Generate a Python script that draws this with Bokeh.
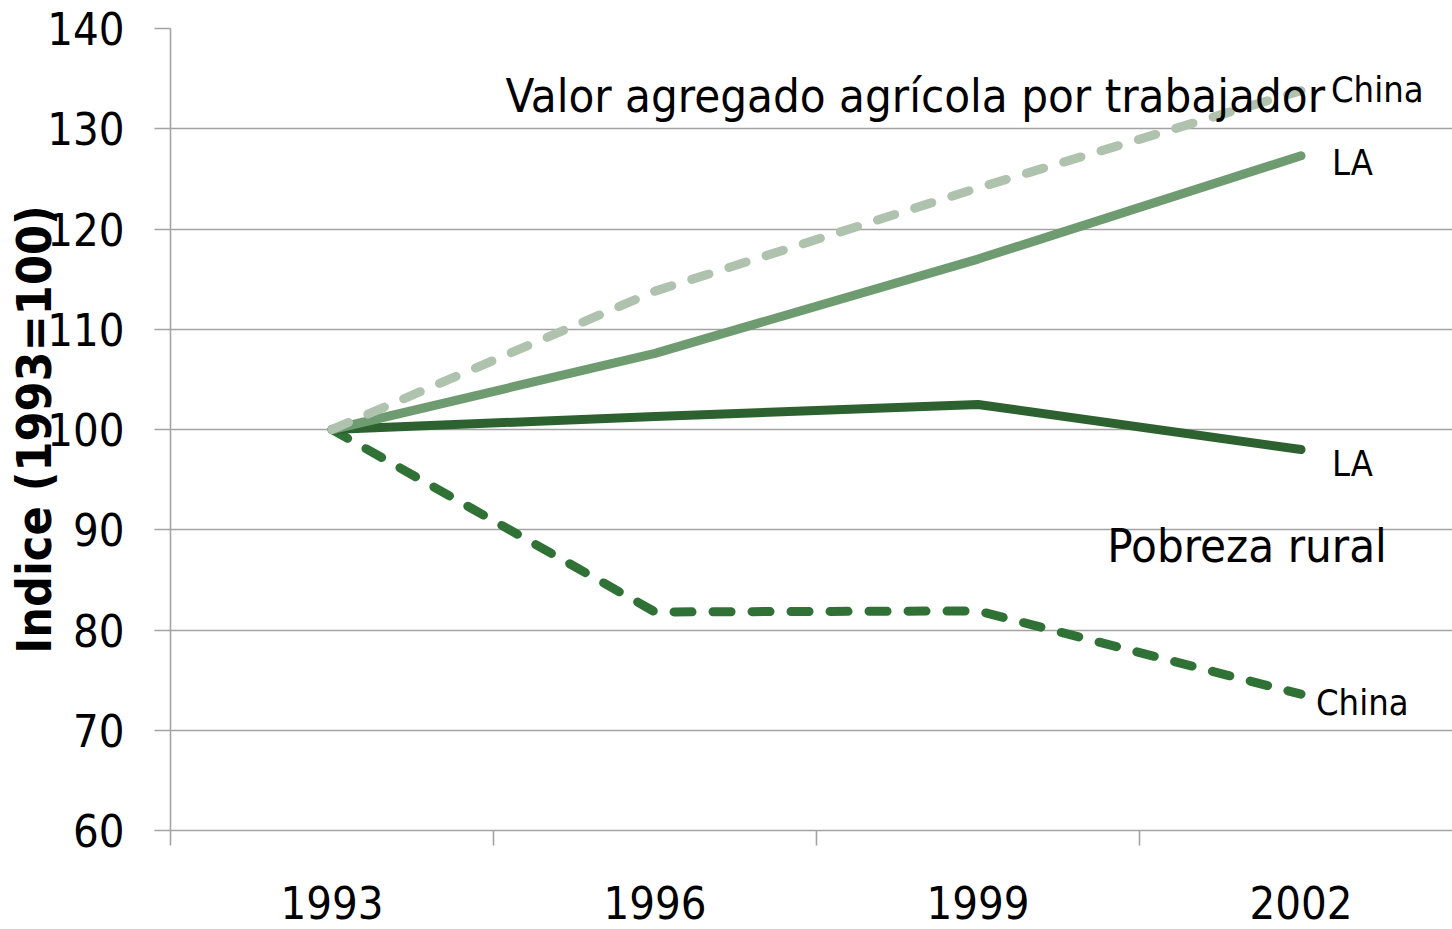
from bokeh.plotting import figure
from bokeh.models import ColumnDataSource, FixedTicker, Range1d, Label
from bokeh.embed import file_html
from bokeh.resources import INLINE

# ---- data ----
years = ["1993", "1996", "1999", "2002"]
va_china = [100.0, 113.8, 124.1, 133.8]   # Valor agregado agrícola por trabajador - China
va_la = [100.0, 107.6, 117.0, 127.3]      # Valor agregado agrícola por trabajador - LA
pob_la = [100.0, 101.3, 102.5, 98.0]      # Pobreza rural - LA
pob_china = [100.0, 81.8, 81.9, 73.6]     # Pobreza rural - China
y_ticks = [60, 70, 80, 90, 100, 110, 120, 130, 140]

FONT = "DejaVu Sans Condensed"
xs = [i + 0.5 for i in range(len(years))]

W, H = 1452, 929
LEFT, TOP, BOTTOM = 170, 28, 99
p = figure(width=W, height=H, output_backend="svg", toolbar_location=None,
           x_range=Range1d(0, (W - LEFT) / 323.0), y_range=Range1d(60, 140),
           min_border_left=LEFT, min_border_right=0, min_border_top=TOP, min_border_bottom=BOTTOM)
p.outline_line_color = None
p.background_fill_color = "white"
p.border_fill_color = "white"

# grid
p.xgrid.grid_line_color = None
p.ygrid.ticker = FixedTicker(ticks=y_ticks)
p.ygrid.grid_line_color = "#a3a3a3"
p.ygrid.grid_line_width = 1.6

# y axis
ya = p.yaxis[0]
ya.ticker = FixedTicker(ticks=y_ticks)
ya.axis_line_color = "#a3a3a3"
ya.axis_line_width = 1.6
ya.major_tick_line_color = "#a3a3a3"
ya.major_tick_line_width = 1.6
ya.major_tick_out = 16
ya.major_tick_in = 0
ya.minor_tick_line_color = None
ya.major_label_standoff = 30
ya.major_label_text_font = FONT
ya.major_label_text_font_size = "45px"
ya.major_label_text_color = "black"
ya.axis_label = "Indice (1993=100)"
ya.axis_label_text_font = FONT
ya.axis_label_text_font_size = "48px"
ya.axis_label_text_font_style = "bold"
ya.axis_label_text_color = "black"
ya.axis_label_standoff = -18

# x axis
xa = p.xaxis[0]
xa.ticker = FixedTicker(ticks=xs, minor_ticks=[float(i) for i in range(len(years))])
xa.major_label_overrides = {x: y for x, y in zip(xs, years)}
xa.axis_line_color = "#a3a3a3"
xa.axis_line_width = 1.6
xa.major_tick_line_color = None
xa.major_tick_out = 0
xa.major_tick_in = 0
xa.minor_tick_line_color = "#a3a3a3"
xa.minor_tick_line_width = 1.6
xa.minor_tick_out = 15
xa.minor_tick_in = 0
xa.major_label_standoff = 40
xa.major_label_text_font = FONT
xa.major_label_text_font_size = "45px"
xa.major_label_text_color = "black"

src = ColumnDataSource(dict(x=xs, va_china=va_china, va_la=va_la, pob_la=pob_la, pob_china=pob_china))

p.line("x", "pob_china", source=src, line_color="#307236", line_width=9,
       line_dash="18 21", line_cap="round", line_join="round")
p.line("x", "pob_la", source=src, line_color="#2d6230", line_width=9,
       line_cap="round", line_join="round")
p.line("x", "va_la", source=src, line_color="#6e9b6f", line_width=9,
       line_cap="round", line_join="round")
p.line("x", "va_china", source=src, line_color="#aec2ae", line_width=9,
       line_dash="18 21", line_cap="round", line_join="round")

# end labels
last = xs[-1]
end_labels = [
    ("China", va_china[-1], 30, 1),
    ("LA", va_la[-1], 31, -7),
    ("LA", pob_la[-1], 31, -14),
    ("China", pob_china[-1], 15, -8),
]
for txt, yv, dx, dy in end_labels:
    p.add_layout(Label(x=last, y=yv, x_offset=dx, y_offset=dy, text=txt,
                       text_font=FONT, text_font_size="36px", text_color="black",
                       text_align="left", text_baseline="middle"))

# group labels
p.add_layout(Label(x=1.037, y=133.3, text="Valor agregado agrícola por trabajador",
                   text_font=FONT, text_font_size="47px", text_color="black",
                   text_align="left", text_baseline="middle"))
p.add_layout(Label(x=2.9, y=88.4, text="Pobreza rural",
                   text_font=FONT, text_font_size="47px", text_color="black",
                   text_align="left", text_baseline="middle"))

open("out.html", "w").write(file_html(p, INLINE))
